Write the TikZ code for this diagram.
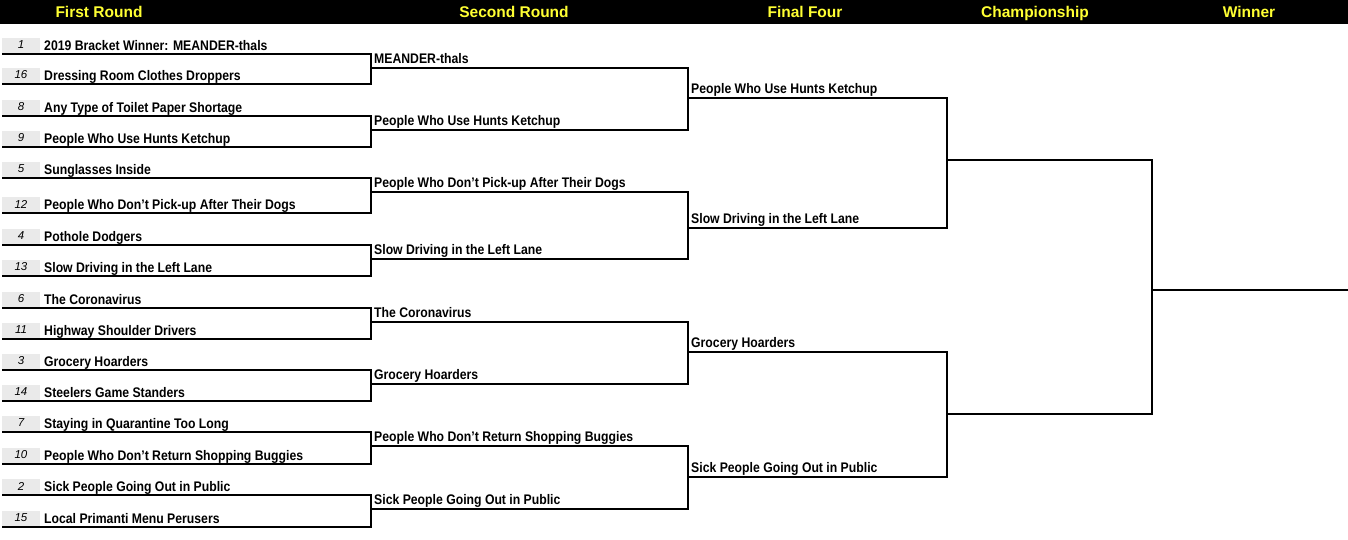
\documentclass[tikz,border=0pt]{standalone}
\usepackage{fontspec}
\setmainfont{Liberation Sans}
\newfontfamily\narrowsans[FakeStretch=0.88]{Liberation Sans}
\definecolor{hdryellow}{RGB}{255,255,51}
\definecolor{seedgray}{RGB}{234,234,234}
\tikzset{
  bline/.style={line width=2.7pt, line join=miter},
  hdr/.style={text=hdryellow, font=\bfseries\fontsize{15.5}{18}\selectfont, anchor=base, inner sep=0pt},
  entrant/.style={font=\narrowsans\bfseries\fontsize{13.9}{15}\selectfont, anchor=base west, inner sep=0pt},
  seedbox/.style={fill=seedgray, minimum width=38pt, minimum height=15pt, inner sep=0pt,
    font=\itshape\fontsize{11.5}{13}\selectfont}
}
\begin{document}
\begin{tikzpicture}[x=1pt,y=-1pt]
\useasboundingbox (0,0) rectangle (1348,539);
\fill[white] (0,0) rectangle (1348,539);
% header bar
\fill[black] (0,0) rectangle (1348,24);
\node[hdr] (h1) at (99,17.7) {First Round};
\node[hdr] (h2) at (514,17.7) {Second Round};
\node[hdr] (h3) at (805,17.7) {Final Four};
\node[hdr] (h4) at (1035,17.7) {Championship};
\node[hdr] (h5) at (1249,17.7) {Winner};
% first round
\foreach \n/\y/\s/\t in {
  1/54/1/{2019 Bracket Winner: MEANDER-thals},
  2/84/16/{Dressing Room Clothes Droppers},
  3/116/8/{Any Type of Toilet Paper Shortage},
  4/147/9/{People Who Use Hunts Ketchup},
  5/178/5/{Sunglasses Inside},
  6/213/12/{People Who Don’t Pick-up After Their Dogs},
  7/245/4/{Pothole Dodgers},
  8/276/13/{Slow Driving in the Left Lane},
  9/308/6/{The Coronavirus},
  10/339/11/{Highway Shoulder Drivers},
  11/370/3/{Grocery Hoarders},
  12/401/14/{Steelers Game Standers},
  13/432/7/{Staying in Quarantine Too Long},
  14/464/10/{People Who Don’t Return Shopping Buggies},
  15/495/2/{Sick People Going Out in Public},
  16/527/15/{Local Primanti Menu Perusers}}{
  \coordinate (a\n) at (2,\y);
  \coordinate (b\n) at (371,\y);
  \node[seedbox] (s\n) at (21,\y-9) {\s};
  \node[entrant] (e\n) at (44,\y-3.6) {\t};
}
\foreach \i/\j in {1/2,3/4,5/6,7/8,9/10,11/12,13/14,15/16}
  \draw[bline] (a\i) -- (b\i) -- (b\j) -- (a\j);
% second round
\foreach \n/\y/\t in {
  1/68/{MEANDER-thals},
  2/130/{People Who Use Hunts Ketchup},
  3/192/{People Who Don’t Pick-up After Their Dogs},
  4/259/{Slow Driving in the Left Lane},
  5/322/{The Coronavirus},
  6/384/{Grocery Hoarders},
  7/446/{People Who Don’t Return Shopping Buggies},
  8/509/{Sick People Going Out in Public}}{
  \coordinate (p\n) at (371,\y);
  \coordinate (q\n) at (688,\y);
  \node[entrant] (r\n) at (374,\y-5) {\t};
}
\foreach \i/\j in {1/2,3/4,5/6,7/8}
  \draw[bline] (p\i) -- (q\i) -- (q\j) -- (p\j);
% final four
\foreach \n/\y/\t in {
  1/98/{People Who Use Hunts Ketchup},
  2/228/{Slow Driving in the Left Lane},
  3/352/{Grocery Hoarders},
  4/477/{Sick People Going Out in Public}}{
  \coordinate (f\n) at (688,\y);
  \coordinate (g\n) at (947,\y);
  \node[entrant] (ff\n) at (691,\y-5) {\t};
}
\foreach \i/\j in {1/2,3/4}
  \draw[bline] (f\i) -- (g\i) -- (g\j) -- (f\j);
% championship
\coordinate (c1) at (947,160);
\coordinate (d1) at (1152,160);
\coordinate (c2) at (947,414);
\coordinate (d2) at (1152,414);
\draw[bline] (c1) -- (d1) -- (d2) -- (c2);
% winner
\coordinate (w0) at (1152,290);
\coordinate (w1) at (1348,290);
\draw[bline] (w0) -- (w1);
\end{tikzpicture}
\end{document}
